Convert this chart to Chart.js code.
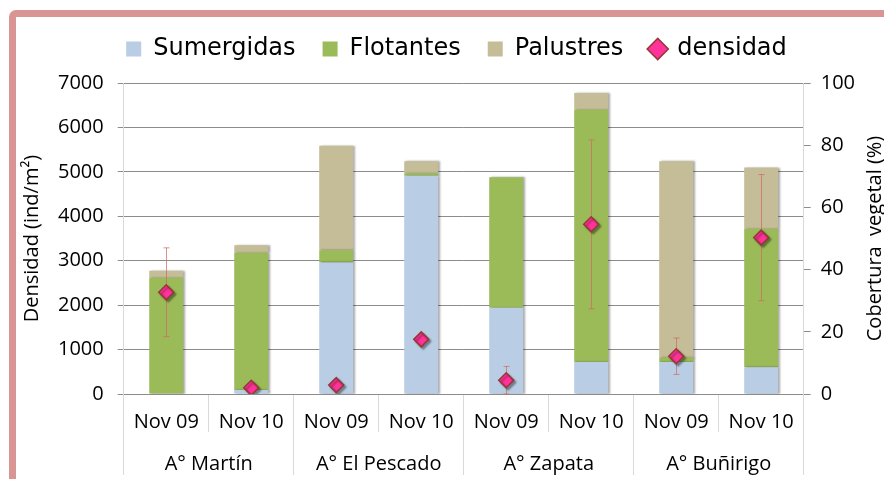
<!DOCTYPE html>
<html>
<head>
<meta charset="utf-8">
<script src="https://cdn.jsdelivr.net/npm/chart.js@4.4.0/dist/chart.umd.min.js"></script>
<style>
  html, body { margin: 0; padding: 0; background: #ffffff; }
  #frame { position: absolute; left: 9px; top: 10px; width: 900px; height: 500px;
           border: 7px solid #d99594; border-radius: 7px; box-sizing: border-box; }
  #wrap { position: absolute; left: 0; top: 0; width: 884px; height: 479px; }
</style>
</head>
<body>
<div id="frame"></div>
<div id="wrap"><canvas id="c" width="884" height="479"></canvas></div>
<script>
// ---- data ----
const categories = ['Nov 09', 'Nov 10', 'Nov 09', 'Nov 10', 'Nov 09', 'Nov 10', 'Nov 09', 'Nov 10'];
const groups = ['A° Martín', 'A° El Pescado', 'A° Zapata', 'A° Buñirigo'];
const sumergidas = [0, 1.3, 42.3, 70.2, 27.7, 10.3, 10.3, 8.6];
const flotantes = [37.4, 44.1, 3.9, 0.8, 42.0, 81.1, 1.4, 44.5];
const palustres = [2.2, 2.4, 33.6, 3.8, 0, 5.4, 63.1, 19.7];
const densidad = [2290, 140, 200, 1230, 310, 3820, 850, 3520];
const densidadError = [1000, 0, 0, 0, 310, 1900, 410, 1420];
const densityTicks = [0, 1000, 2000, 3000, 4000, 5000, 6000, 7000];
const coverTicks = [0, 20, 40, 60, 80, 100];

const tickFont = { family: 'Open Sans', size: 20 };

// shadows for bars and points, error bars beneath markers
const shadowPlugin = {
  id: 'shadow',
  beforeDatasetDraw(chart, args) {
    const ctx = chart.ctx;
    ctx.save();
    const isLine = chart.data.datasets[args.index].type === 'line';
    ctx.shadowColor = 'rgba(0,0,0,0.35)';
    ctx.shadowBlur = 2;
    ctx.shadowOffsetX = 2;
    ctx.shadowOffsetY = isLine ? 2 : 0;
    if (isLine) {
      const xs = chart.scales.x, ys = chart.scales.y;
      ctx.save();
      ctx.shadowColor = 'rgba(0,0,0,0)';
      ctx.strokeStyle = 'rgba(205,110,100,0.75)';
      ctx.lineWidth = 1;
      densidad.forEach((v, i) => {
        const e = densidadError[i];
        if (!e) return;
        const px = Math.round(xs.getPixelForValue(i)) + 0.5;
        const yTop = ys.getPixelForValue(v + e);
        const yBot = ys.getPixelForValue(Math.max(0, v - e));
        ctx.beginPath();
        ctx.moveTo(px, yTop); ctx.lineTo(px, yBot);
        ctx.moveTo(px - 3, yTop); ctx.lineTo(px + 3, yTop);
        ctx.moveTo(px - 3, yBot); ctx.lineTo(px + 3, yBot);
        ctx.stroke();
      });
      ctx.restore();
    }
  },
  afterDatasetDraw(chart) {
    chart.ctx.restore();
  }
};

// extra room under the legend, and shift it slightly right
const legendSpace = {
  id: 'legendSpace',
  beforeInit(chart) {
    const lg = chart.legend;
    const origFit = lg.fit;
    lg.fit = function () {
      origFit.call(this);
      this.height += 12;
    };
  },
  afterLayout(chart) {
    chart.legend.left += 14;
    chart.legend.right += 14;
  }
};

// right axis title reading bottom-to-top
const rightTitle = {
  id: 'rightTitle',
  afterDraw(chart) {
    const ctx = chart.ctx;
    const a = chart.chartArea;
    ctx.save();
    ctx.translate(875, (a.top + a.bottom) / 2);
    ctx.rotate(-Math.PI / 2);
    ctx.font = '20px "Open Sans"';
    ctx.fillStyle = '#000';
    ctx.textAlign = 'center';
    ctx.textBaseline = 'middle';
    ctx.fillText('Cobertura  vegetal (%)', 0, 0);
    ctx.restore();
  }
};

new Chart(document.getElementById('c'), {
  data: {
    labels: categories,
    datasets: [
      { type: 'bar', label: 'Sumergidas', data: sumergidas, backgroundColor: '#b9cde5',
        yAxisID: 'y1', xAxisID: 'x', stack: 's', categoryPercentage: 0.8, barPercentage: 0.5,
        pointStyle: 'rect', order: 2 },
      { type: 'bar', label: 'Flotantes', data: flotantes, backgroundColor: '#9bbb59',
        yAxisID: 'y1', xAxisID: 'x', stack: 's', categoryPercentage: 0.8, barPercentage: 0.5,
        pointStyle: 'rect', order: 2 },
      { type: 'bar', label: 'Palustres', data: palustres, backgroundColor: '#c4bd97',
        yAxisID: 'y1', xAxisID: 'x', stack: 's', categoryPercentage: 0.8, barPercentage: 0.5,
        pointStyle: 'rect', order: 2 },
      { type: 'line', label: 'densidad', data: densidad, yAxisID: 'y', xAxisID: 'x',
        showLine: false, pointStyle: 'rectRot', pointRadius: 7.5, pointHoverRadius: 7.5,
        backgroundColor: '#ff3399', borderColor: '#953735', borderWidth: 1.5, order: 0 }
    ]
  },
  options: {
    responsive: false,
    animation: false,
    devicePixelRatio: 1,
    layout: { padding: { left: 20, right: 19, top: 10, bottom: 4 } },
    plugins: {
      tooltip: { enabled: false },
      legend: {
        position: 'top',
        labels: {
          usePointStyle: true,
          boxHeight: 15,
          boxWidth: 15,
          padding: 27,
          color: '#000',
          font: { family: 'DejaVu Sans', size: 24 },
          sort: (a, b) => a.datasetIndex - b.datasetIndex
        }
      }
    },
    scales: {
      x: {
        type: 'category',
        position: 'bottom',
        weight: 0,
        offset: true,
        grid: { display: true, offset: true, drawOnChartArea: false, drawTicks: true,
                tickLength: 38, color: '#d9d9d9', tickColor: '#d9d9d9' },
        border: { display: true, color: '#8c8c8c', width: 1 },
        ticks: { font: tickFont, color: '#000', padding: -22, maxRotation: 0, autoSkip: false },
        afterFit(scale) { scale.height = 38; }
      },
      x2: {
        type: 'category',
        labels: groups,
        position: 'bottom',
        weight: 1,
        offset: true,
        grid: { display: true, offset: true, drawOnChartArea: false, drawTicks: true,
                tickLength: 43, color: '#d9d9d9', tickColor: '#d9d9d9' },
        border: { display: false },
        ticks: { font: tickFont, color: '#000', padding: -23, maxRotation: 0, autoSkip: false },
        afterFit(scale) { scale.height = 43; }
      },
      y: {
        type: 'linear',
        position: 'left',
        min: 0, max: 7000,
        afterBuildTicks(scale) { scale.ticks = densityTicks.map(v => ({ value: v })); },
        grid: { color: '#8c8c8c', borderDash: [1, 2], tickLength: 6, tickColor: '#8c8c8c',
                tickBorderDash: [] },
        border: { color: '#d9d9d9' },
        ticks: { font: tickFont, color: '#000', padding: 14, callback: v => String(v) },
        title: { display: true, text: 'Densidad (ind/m²)', font: tickFont, color: '#000',
                 padding: { top: 0, bottom: 0 } }
      },
      y1: {
        type: 'linear',
        position: 'right',
        min: 0, max: 100,
        afterBuildTicks(scale) { scale.ticks = coverTicks.map(v => ({ value: v })); },
        grid: { drawOnChartArea: false, tickLength: 7, tickColor: '#8c8c8c' },
        border: { color: '#d9d9d9' },
        ticks: { font: tickFont, color: '#000', padding: 10, callback: v => String(v) }
      }
    }
  },
  plugins: [shadowPlugin, legendSpace, rightTitle]
});
</script>
</body>
</html>
